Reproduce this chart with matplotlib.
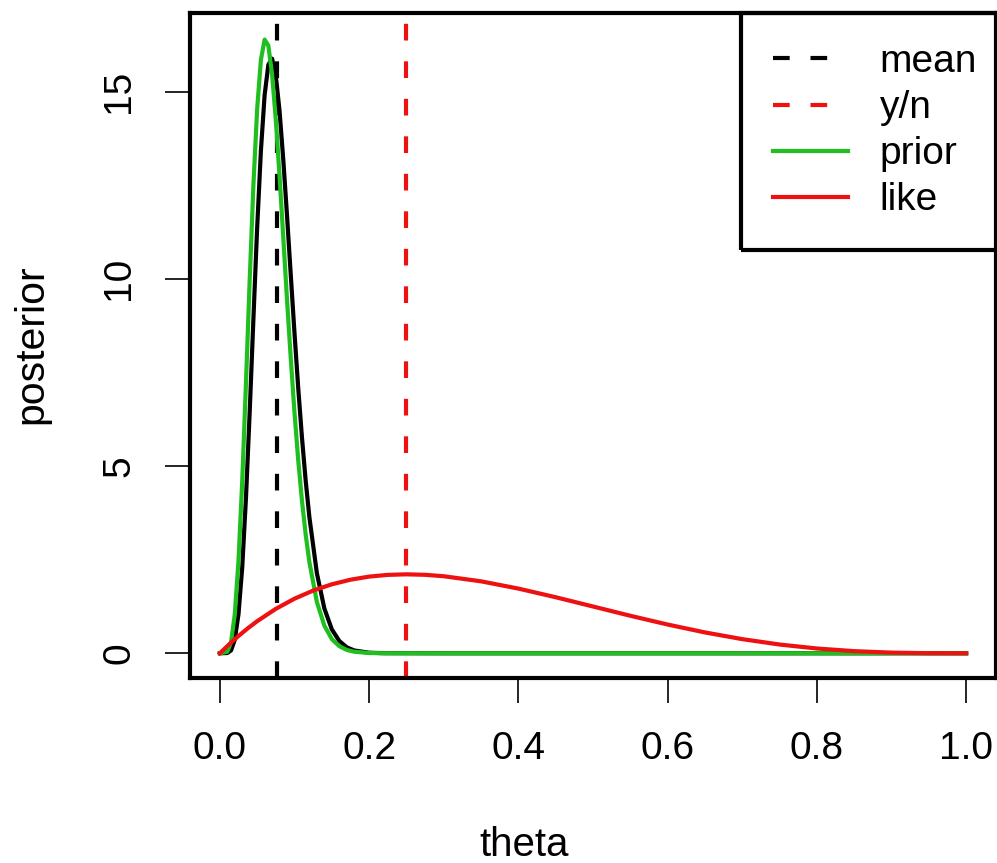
import matplotlib
matplotlib.use("Agg")
import matplotlib.pyplot as plt

plt.rcParams['font.family'] = ['Liberation Sans', 'DejaVu Sans']

# values
theta_spike = [0.0, 0.01, 0.015, 0.02, 0.025, 0.03, 0.035, 0.04, 0.045, 0.05,
               0.055, 0.06, 0.065, 0.07, 0.075, 0.08, 0.085, 0.09, 0.095, 0.10,
               0.105, 0.11, 0.115, 0.12, 0.13, 0.14, 0.15, 0.16, 0.17, 0.18,
               0.20, 0.22, 0.30, 0.50, 0.70, 1.0]
posterior = [0.0, 0.007, 0.077, 0.36, 1.05, 2.30, 4.15, 6.45, 8.95, 11.37,
             13.42, 14.91, 15.72, 15.88, 15.42, 14.48, 13.18, 11.69, 10.11, 8.56,
             7.09, 5.77, 4.61, 3.63, 2.14, 1.20, 0.64, 0.33, 0.16, 0.076,
             0.015, 0.003, 0.0, 0.0, 0.0, 0.0]
prior = [0.0, 0.041, 0.30, 1.04, 2.48, 4.61, 7.22, 9.98, 12.52, 14.54,
         15.85, 16.39, 16.23, 15.46, 14.24, 12.74, 11.10, 9.44, 7.88, 6.43,
         5.16, 4.08, 3.17, 2.43, 1.37, 0.74, 0.38, 0.19, 0.09, 0.042,
         0.008, 0.001, 0.0, 0.0, 0.0, 0.0]

theta_like = [0.0, 0.0125, 0.025, 0.0375, 0.05, 0.075, 0.1, 0.125, 0.15, 0.175,
              0.2, 0.225, 0.25, 0.275, 0.3, 0.35, 0.4, 0.45, 0.5, 0.55, 0.6,
              0.65, 0.7, 0.75, 0.8, 0.85, 0.9, 0.95, 1.0]
like = [0.0, 0.240, 0.463, 0.668, 0.857, 1.187, 1.458, 1.675, 1.842, 1.965,
        2.048, 2.094, 2.109, 2.096, 2.058, 1.922, 1.728, 1.497, 1.25, 1.002, 0.768,
        0.557, 0.378, 0.234, 0.128, 0.057, 0.018, 0.0024, 0.0]

post_mean = 0.0767
y_over_n = 0.25

fig = plt.figure(figsize=(9.97, 8.63), dpi=100)
ax = fig.add_axes([190 / 997, 1 - 678 / 863, 806 / 997, 665 / 863])

ax.plot(theta_spike, posterior, color='black', lw=3, zorder=3)
dash = (4, 5)
ax.axvline(post_mean, color='black', lw=3, ls=(0, dash), label='mean')
ax.axvline(y_over_n, color='#ee1111', lw=3, ls=(0, dash), label='y/n')
ax.plot(theta_spike, prior, color='#1fbf1f', lw=3, zorder=4, label='prior')
ax.plot(theta_like, like, color='#ee1111', lw=3, zorder=5, label='like')

ax.set_xlim(-0.04, 1.04)
ax.set_ylim(-0.66, 17.1)
ax.set_xticks([0.0, 0.2, 0.4, 0.6, 0.8, 1.0])
ax.set_xticklabels(['0.0', '0.2', '0.4', '0.6', '0.8', '1.0'])
ax.set_yticks([0, 5, 10, 15])
ax.set_yticklabels(['0', '5', '10', '15'], rotation=90, va='center')
ax.tick_params(axis='both', direction='out', length=18, width=1.2,
               labelsize=28, pad=20)
for s in ax.spines.values():
    s.set_linewidth(3)

ax.set_xlabel('theta', fontsize=29)
ax.xaxis.set_label_coords((524 - 190) / 806, (678 - 826) / 665)
ax.set_ylabel('posterior', fontsize=29.5)
ax.yaxis.set_label_coords(-(190 - 50) / 806, (678 - 344) / 665)

# legend box runs past the right edge of the image, as in the original
leg = ax.legend(loc='upper right', bbox_to_anchor=(1 + 12 / 806, 1),
                fontsize=28, borderaxespad=0, fancybox=False,
                edgecolor='black', facecolor='none', framealpha=1,
                handlelength=1.95, handletextpad=0.8, labelspacing=0.26,
                borderpad=0.8)
leg.get_frame().set_linewidth(3)

fig.savefig('out.png', dpi=100)
